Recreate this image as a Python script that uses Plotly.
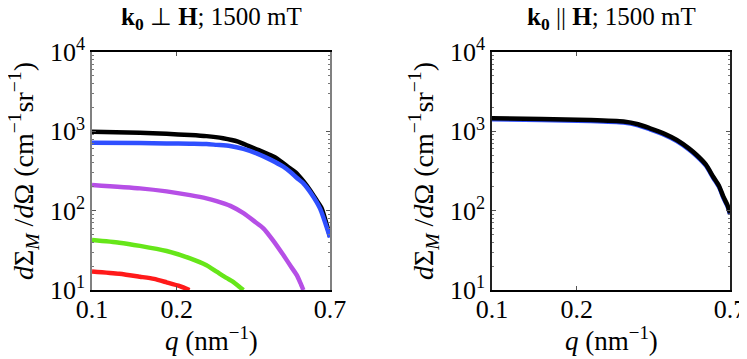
import plotly.graph_objects as go

# left panel: k0 perpendicular to H, 1500 mT
q_black = [0.10, 0.148, 0.184, 0.223, 0.255, 0.292, 0.330, 0.364, 0.40, 0.453, 0.50, 0.533, 0.563, 0.594, 0.625, 0.654, 0.70]
i_black = [989, 960, 930, 899, 870, 817, 740, 641, 560, 457, 350, 295, 235, 182, 138, 107, 47]
q_blue = [0.10, 0.148, 0.184, 0.223, 0.255, 0.277, 0.309, 0.345, 0.384, 0.43, 0.478, 0.51, 0.533, 0.563, 0.60, 0.645, 0.70]
i_blue = [719, 712, 705, 698, 692, 675, 653, 600, 528, 440, 358, 300, 260, 221, 165, 107, 46]
q_purple = [0.10, 0.148, 0.184, 0.223, 0.255, 0.277, 0.31, 0.345, 0.38, 0.406, 0.44, 0.478, 0.51, 0.533, 0.55, 0.563]
i_purple = [211, 191, 175, 157, 143, 132, 115, 93, 72, 60, 42, 27.6, 19.5, 15.5, 12.2, 10]
q_green = [0.10, 0.125, 0.148, 0.184, 0.223, 0.255, 0.277, 0.30, 0.318, 0.33, 0.345]
i_green = [42.6, 39.5, 36, 31, 25, 20.5, 17, 14.2, 12.6, 11.3, 10]
q_red = [0.10, 0.125, 0.148, 0.166, 0.184, 0.205, 0.222]
i_red = [17.1, 16, 14.7, 13.8, 12.5, 11.2, 10]

# right panel: k0 parallel to H, 1500 mT
q_par = [0.10, 0.15, 0.223, 0.293, 0.33, 0.364, 0.41, 0.453, 0.50, 0.533, 0.575, 0.61, 0.64, 0.663, 0.685, 0.70]
i_par = [1459, 1430, 1390, 1330, 1230, 1092, 930, 778, 610, 503, 380, 268, 205, 150, 118, 93]

x_ticks = [0.1, 0.2, 0.7]
x_labels = ['0.1', '0.2', '0.7']
y_ticks = [10, 100, 1000, 10000]
y_labels = ['10<sup>1</sup>', '10<sup>2</sup>', '10<sup>3</sup>', '10<sup>4</sup>']
y_minor = [m * 10 ** e for e in (1, 2, 3) for m in range(2, 10)]

font = 'Liberation Serif'
W, H = 747, 359
OFF = 8  # page body margin shifts the plot by this many pixels

fig = go.Figure()

left = [
    (q_black, i_black, '#000000'),
    (q_blue, i_blue, '#2f4fff'),
    (q_purple, i_purple, '#b64fe6'),
    (q_green, i_green, '#66e619'),
    (q_red, i_red, '#ff1a1a'),
]
for qs, vals, col in left:
    fig.add_trace(go.Scatter(x=qs, y=vals, mode='lines',
                             line={'color': col, 'width': 4.5, 'shape': 'spline', 'smoothing': 0.6},
                             xaxis='x', yaxis='y', showlegend=False))

fig.add_trace(go.Scatter(x=q_par, y=[v * 0.97 for v in i_par], mode='lines',
                         line={'color': '#2f4fff', 'width': 4.5, 'shape': 'spline', 'smoothing': 0.6},
                         xaxis='x2', yaxis='y2', showlegend=False))
fig.add_trace(go.Scatter(x=q_par, y=i_par, mode='lines',
                         line={'color': '#000000', 'width': 4.5, 'shape': 'spline', 'smoothing': 0.6},
                         xaxis='x2', yaxis='y2', showlegend=False))


def px(x):
    return (x - OFF) / W


def py(y):
    return 1 - (y - OFF) / H


def xaxis(x0, x1, anchor):
    return {
        'domain': [px(x0), px(x1)], 'anchor': anchor, 'type': 'log', 'range': [-1, -0.154902],
        'tickvals': x_ticks, 'ticktext': x_labels, 'ticks': 'inside', 'ticklen': 4,
        'showline': True, 'linecolor': '#000000', 'linewidth': 1.5, 'mirror': 'ticks',
        'showgrid': False, 'zeroline': False, 'tickcolor': '#555555', 'automargin': False,
        'ticklabelstandoff': -5,
        'tickfont': {'family': font, 'size': 26, 'color': 'black'},
    }


def yaxis(anchor, col):
    return {
        'domain': [py(290), py(52)], 'anchor': anchor, 'type': 'log', 'range': [1, 4],
        'tickvals': y_ticks, 'ticktext': y_labels, 'ticks': 'inside', 'ticklen': 4,
        'showline': True, 'linecolor': col, 'linewidth': 1.5, 'mirror': 'ticks',
        'showgrid': False, 'zeroline': False, 'tickcolor': '#555555', 'automargin': False,
        'minor': {'tickvals': y_minor, 'ticks': 'inside', 'ticklen': 2, 'tickcolor': '#777777', 'showgrid': False},
        'tickfont': {'family': font, 'size': 26, 'color': 'black'},
    }


ytitle = '<i>d</i>Σ<sub><i>M</i></sub> /<i>d</i>Ω (cm<sup>−1</sup>sr<sup>−1</sup>)'
xtitle = '<i>q</i> (nm<sup>−1</sup>)'


def note(text, x, y, size, angle=0, yanchor='middle'):
    return {'text': text, 'x': px(x), 'y': py(y), 'xref': 'paper', 'yref': 'paper',
            'xanchor': 'center', 'yanchor': yanchor, 'showarrow': False, 'textangle': angle,
            'font': {'family': font, 'size': size, 'color': 'black'}}


fig.update_layout(
    width=W, height=H,
    margin={'l': 0, 'r': 0, 't': 0, 'b': 0},
    paper_bgcolor='white', plot_bgcolor='white',
    xaxis=xaxis(92, 330, 'y'), yaxis=yaxis('x', '#808080'),
    xaxis2=xaxis(492, 730, 'y2'), yaxis2=yaxis('x2', '#222222'),
    annotations=[
        note('<b>k<sub>0</sub></b> ⊥ <b>H</b>; 1500 mT', 211, 19, 25),
        note('<b>k<sub>0</sub></b> || <b>H</b>; 1500 mT', 611, 19, 25),
        note(xtitle, 211, 339, 27),
        note(xtitle, 611, 339, 27),
        note(ytitle, 23, 171, 28, angle=-90),
        note(ytitle, 423, 171, 28, angle=-90),
    ],
)

fig.write_html('out.html')
